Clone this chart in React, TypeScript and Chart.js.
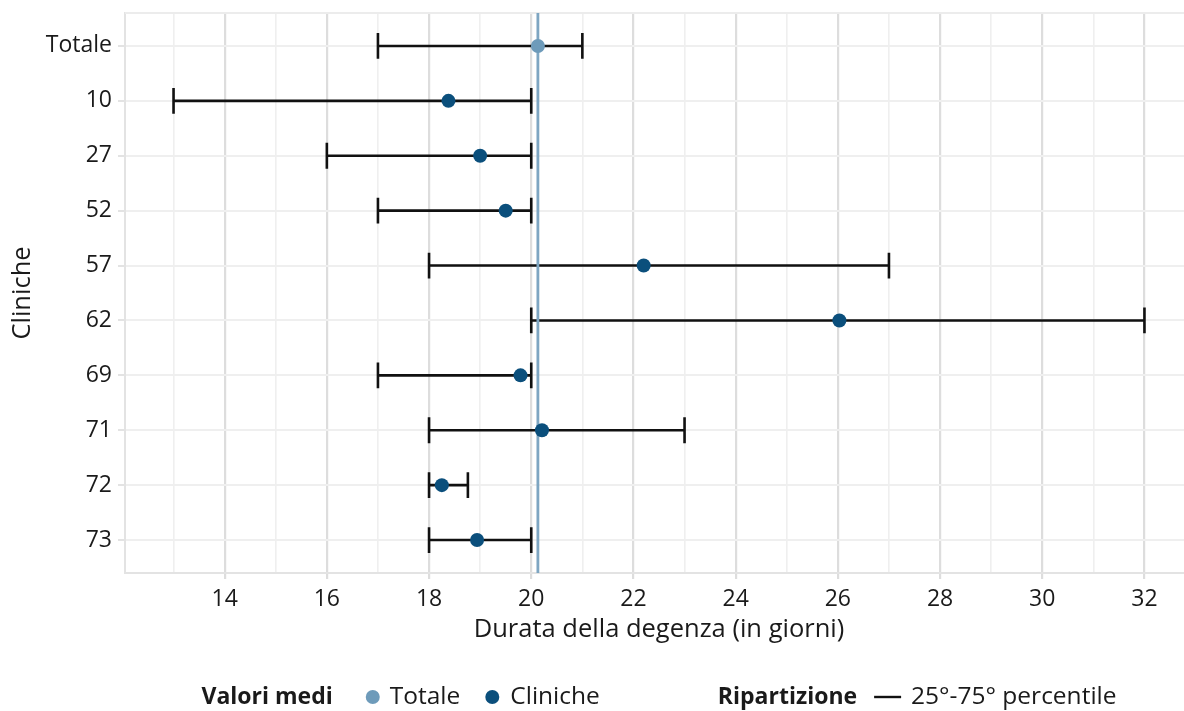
import React, { useEffect, useRef } from "react";
import { Chart, registerables } from "chart.js";

Chart.register(...registerables);

const categories = ["Totale", "10", "27", "52", "57", "62", "69", "71", "72", "73"];
const meanValues = [20.13, 18.38, 19.0, 19.5, 22.2, 26.03, 19.79, 20.21, 18.25, 18.94];
const p25Values = [17, 13, 16, 17, 18, 20, 17, 18, 18, 18];
const p75Values = [21, 20, 20, 20, 27, 32, 20, 23, 18.76, 20];
const xTickValues = [13, 14, 15, 16, 17, 18, 19, 20, 21, 22, 23, 24, 25, 26, 27, 28, 29, 30, 31, 32];

const xTitle = "Durata della degenza (in giorni)";
const yTitle = "Cliniche";
const legendTitle1 = "Valori medi";
const legendItem1 = "Totale";
const legendItem2 = "Cliniche";
const legendTitle2 = "Ripartizione";
const legendItem3 = "25°-75° percentile";

const FONT = "'Open Sans', 'Noto Sans', sans-serif";
const COL_TOT = "#6e9bba";
const COL_CLIN = "#0b4f7c";
const LINE_COL = "#7ea6c2";

const overlayPlugin = {
  id: "overlay",
  beforeDatasetsDraw(chart: any) {
    const { ctx, chartArea, scales } = chart;
    const xs = scales.x;
    const ys = scales.y;
    ctx.save();
    ctx.strokeStyle = "#ececec";
    ctx.lineWidth = 2;
    ctx.beginPath();
    ctx.moveTo(chartArea.left, chartArea.top);
    ctx.lineTo(chartArea.right, chartArea.top);
    ctx.stroke();
    ctx.strokeStyle = "#111111";
    ctx.lineWidth = 2.6;
    categories.forEach((_, i) => {
      const y = ys.getPixelForValue(i);
      const yTop = ys.getPixelForValue(i - 0.235);
      const yBot = ys.getPixelForValue(i + 0.235);
      const x1 = xs.getPixelForValue(p25Values[i]);
      const x2 = xs.getPixelForValue(p75Values[i]);
      ctx.beginPath();
      ctx.moveTo(x1, y);
      ctx.lineTo(x2, y);
      ctx.moveTo(x1, yTop);
      ctx.lineTo(x1, yBot);
      ctx.moveTo(x2, yTop);
      ctx.lineTo(x2, yBot);
      ctx.stroke();
    });
    const vx = xs.getPixelForValue(meanValues[0]);
    ctx.strokeStyle = LINE_COL;
    ctx.lineWidth = 2.8;
    ctx.beginPath();
    ctx.moveTo(vx, chartArea.top);
    ctx.lineTo(vx, chartArea.bottom);
    ctx.stroke();
    ctx.restore();
  },
  afterDraw(chart: any) {
    const { ctx, chartArea } = chart;
    const cx = (chartArea.left + chartArea.right) / 2;
    const y = 697;
    ctx.save();
    ctx.textBaseline = "middle";
    ctx.textAlign = "left";
    const bold = `bold 23px ${FONT}`;
    const norm = `24.5px ${FONT}`;
    type Item = { kind: "text" | "dot" | "line"; text?: string; font?: string; color?: string; w: number; gapAfter: number };
    const items: Item[] = [];
    const measure = (t: string, f: string) => {
      ctx.font = f;
      return ctx.measureText(t).width;
    };
    items.push({ kind: "text", text: legendTitle1, font: bold, w: measure(legendTitle1, bold), gapAfter: 33 });
    items.push({ kind: "dot", color: COL_TOT, w: 14, gapAfter: 10 });
    items.push({ kind: "text", text: legendItem1, font: norm, w: measure(legendItem1, norm), gapAfter: 25 });
    items.push({ kind: "dot", color: COL_CLIN, w: 14, gapAfter: 11 });
    items.push({ kind: "text", text: legendItem2, font: norm, w: measure(legendItem2, norm), gapAfter: 118 });
    items.push({ kind: "text", text: legendTitle2, font: bold, w: measure(legendTitle2, bold), gapAfter: 17 });
    items.push({ kind: "line", w: 27, gapAfter: 10 });
    items.push({ kind: "text", text: legendItem3, font: norm, w: measure(legendItem3, norm), gapAfter: 0 });
    const total = items.reduce((s, it) => s + it.w + it.gapAfter, 0);
    let x = cx - total / 2;
    for (const it of items) {
      if (it.kind === "text") {
        ctx.font = it.font!;
        ctx.fillStyle = "#1a1a1a";
        ctx.fillText(it.text!, x, y);
      } else if (it.kind === "dot") {
        ctx.fillStyle = it.color!;
        ctx.beginPath();
        ctx.arc(x + 7, y, 7, 0, Math.PI * 2);
        ctx.fill();
      } else {
        ctx.strokeStyle = "#111111";
        ctx.lineWidth = 2.4;
        ctx.beginPath();
        ctx.moveTo(x, y);
        ctx.lineTo(x + it.w, y);
        ctx.stroke();
      }
      x += it.w + it.gapAfter;
    }
    ctx.restore();
  },
};

export default function App() {
  const canvasRef = useRef<HTMLCanvasElement | null>(null);

  useEffect(() => {
    if (!canvasRef.current) return;
    const pointColors = categories.map((_, i) => (i === 0 ? COL_TOT : COL_CLIN));
    const chart = new Chart(canvasRef.current, {
      type: "scatter",
      data: {
        datasets: [
          {
            data: meanValues.map((v, i) => ({ x: v, y: i })),
            pointBackgroundColor: pointColors,
            pointBorderColor: pointColors,
            pointRadius: 7,
            pointBorderWidth: 0,
          },
        ],
      },
      options: {
        animation: false,
        responsive: false,
        maintainAspectRatio: false,
        layout: { padding: { left: 0, right: 3, top: 13, bottom: 60 } },
        plugins: { legend: { display: false }, tooltip: { enabled: false } },
        scales: {
          x: {
            type: "linear",
            min: 12.05,
            max: 32.95,
            afterBuildTicks: (scale: any) => {
              scale.ticks = xTickValues.map((v) => ({ value: v }));
            },
            afterFit: (scale: any) => {
              scale.height = 78;
              scale.paddingLeft = 0;
              scale.paddingRight = 0;
            },
            ticks: {
              autoSkip: false,
              maxRotation: 0,
              padding: 7,
              color: "#1a1a1a",
              font: { family: FONT, size: 23 },
              callback: (v: any) => (Number(v) % 2 === 0 ? String(v) : ""),
            },
            grid: {
              color: (c: any) => (c.tick && c.tick.value % 2 === 0 ? "#dddddd" : "#efefef"),
              lineWidth: (c: any) => (c.tick && c.tick.value % 2 === 0 ? 2.2 : 1.6),
              tickColor: (c: any) => (c.tick && c.tick.value % 2 === 0 ? "#dddddd" : "rgba(0,0,0,0)"),
              tickLength: 6,
            },
            border: { display: true, color: "#e3e3e3", width: 2 },
            title: {
              display: true,
              text: xTitle,
              color: "#1a1a1a",
              font: { family: FONT, size: 25.5 },
              padding: { top: 0, bottom: 6 },
            },
          },
          y: {
            type: "linear",
            reverse: true,
            min: -0.6,
            max: categories.length - 1 + 0.6,
            afterBuildTicks: (scale: any) => {
              scale.ticks = categories.map((_, i) => ({ value: i }));
            },
            afterFit: (scale: any) => {
              scale.width = 125;
              scale.paddingTop = 0;
              scale.paddingBottom = 0;
            },
            ticks: {
              autoSkip: false,
              padding: 6,
              color: "#1a1a1a",
              font: { family: FONT, size: 23 },
              callback: (v: any) => categories[Number(v)] ?? "",
            },
            grid: {
              color: "#efefef",
              lineWidth: 2,
              tickColor: "#e3e3e3",
              tickLength: 7,
            },
            border: { display: true, color: "#e3e3e3", width: 2 },
            title: {
              display: true,
              text: yTitle,
              color: "#1a1a1a",
              font: { family: FONT, size: 25.5 },
              padding: { top: 7, bottom: 0 },
            },
          },
        },
      },
      plugins: [overlayPlugin],
    } as any);
    return () => chart.destroy();
  }, []);

  return (
    <div style={{ position: "fixed", left: 0, top: 0, width: 1184, height: 711, overflow: "hidden", background: "#ffffff" }}>
      <canvas ref={canvasRef} width={1200} height={711} style={{ display: "block" }} />
    </div>
  );
}
